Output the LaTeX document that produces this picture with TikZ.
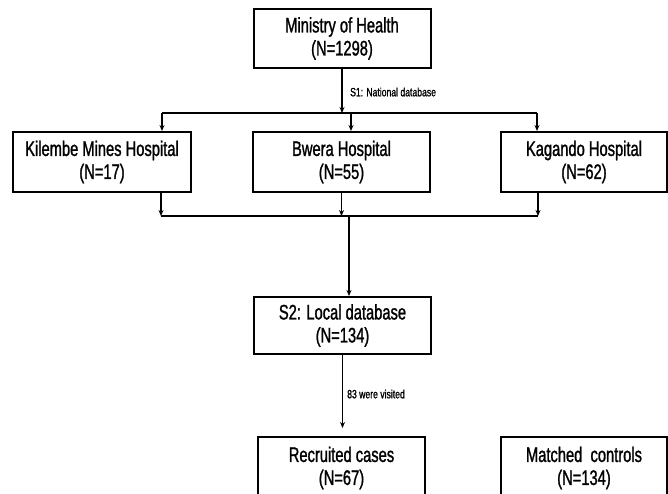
\documentclass[tikz,border=0pt]{standalone}
\usepackage{fontspec}
\setmainfont{Liberation Sans}[FakeStretch=0.7, FakeBold=1.2]
\newfontfamily\lblfont{Liberation Sans}[FakeStretch=0.72, FakeBold=1.2]
\usetikzlibrary{arrows.meta}
\begin{document}
\begin{tikzpicture}[x=1pt,y=-1pt,
  box/.style={draw, line width=2pt, align=center, inner sep=0pt,
    font=\fontsize{21}{23}\selectfont, minimum width=#1, minimum height=59pt},
  box/.default=177pt,
  conn/.style={line width=1.1pt},
  arr/.style={conn, -{Stealth[length=6pt,width=5pt]}},
  lbl/.style={anchor=west, inner sep=0pt, font=\lblfont\fontsize{12}{13}\selectfont}]
\clip (0,0) rectangle (668,493);
\fill[white] (0,0) rectangle (668,493);
% boxes
\node[box=177pt] (min) at (342,38.5) {Ministry of Health\\(N=1298)};
\node[box=178pt, minimum height=60pt] (kil) at (102,162) {Kilembe Mines Hospital\\(N=17)};
\node[box=177pt, minimum height=60pt] (bwe) at (341.5,162) {Bwera Hospital\\(N=55)};
\node[box=166pt, minimum height=60pt] (kag) at (584,162) {Kagando Hospital\\(N=62)};
\node[box=177pt, minimum height=57pt] (s2) at (342.5,325.5) {S2: Local database\\(N=134)};
\node[box=167pt, minimum height=62pt] (rec) at (341.5,468) {Recruited cases\\(N=67)};
\node[box=166pt, minimum height=62pt] (mat) at (584,468) {Matched\ \ controls\\(N=134)};
% top distribution line
\coordinate (t1L) at (162,113);
\coordinate (t1B) at (351,113);
\coordinate (t1R) at (537,113);
\draw[arr] (min.south) -- (min.south |- t1L);
\draw[conn] (t1L) -- (t1R);
\draw[arr] (t1L) -- (t1L |- kil.north);
\draw[arr] (t1B) -- (t1B |- bwe.north);
\draw[arr] (t1R) -- (t1R |- kag.north);
\node[lbl] (s1lbl) at (350,92) {S1: National database};
% bottom collection line
\coordinate (b1L) at (161,216);
\coordinate (b1M) at (349,216);
\coordinate (b1R) at (538,216);
\draw[arr] (b1L |- kil.south) -- (b1L);
\draw[arr] (bwe.south) -- (bwe.south |- b1L);
\draw[arr] (b1R |- kag.south) -- (b1R);
\draw[conn] (b1L) -- (b1R);
\draw[arr] (b1M) -- (b1M |- s2.north);
% visited
\draw[arr, shorten >=8pt] (s2.south) -- (s2.south |- rec.north);
\node[lbl] (vlbl) at (347,394) {83 were visited};
\end{tikzpicture}
\end{document}
